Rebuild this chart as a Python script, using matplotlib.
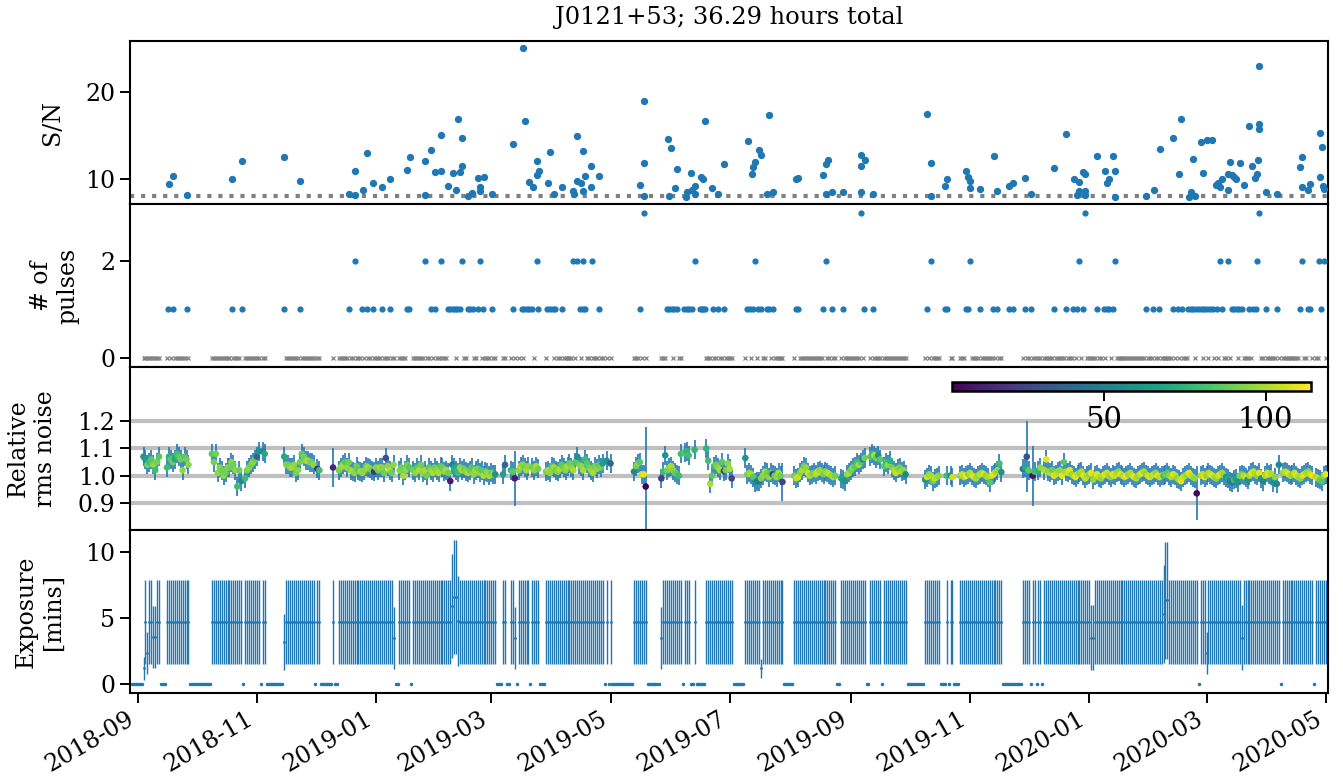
import numpy as np
import pandas as pd
import matplotlib
matplotlib.use("Agg")
import matplotlib.pyplot as plt
import matplotlib.dates as mdates

plt.rcParams['font.family'] = 'serif'
plt.rcParams['font.serif'] = ['DejaVu Serif']
plt.rcParams['font.size'] = 17
plt.rcParams['axes.linewidth'] = 1.5
plt.rcParams['axes.labelpad'] = 15

source = "J0121+53"
total_hours = 36.29
sn_threshold = 8.0

# single pulse detections: MJD and S/N
sn_mjd = [58378.2, 58380.1, 58387.2, 58410.1, 58415.2, 58437.0, 58445.1, 58470.1, 58473.2, 58473.2,
          58477.1, 58479.2, 58482.3, 58487.2, 58491.1, 58500.0, 58501.2, 58509.0, 58509.0, 58512.1,
          58514.2, 58517.1, 58517.1, 58521.0,
          58523.2, 58524.9, 58526.1, 58526.9, 58528.1, 58528.1, 58531.2, 58533.2, 58536.0, 58537.2,
          58537.2, 58539.1, 58543.2, 58554.2, 58559.2, 58560.2, 58562.1, 58564.1, 58566.2, 58566.2,
          58567.2, 58572.0, 58573.2, 58575.1, 58579.1, 58584.9, 58585.3, 58587.0, 58587.0, 58589.0,
          58590.0, 58590.0, 58591.1, 58594.1, 58594.1, 58598.1,
          58619.1, 58621.1, 58621.1, 58621.1, 58633.2, 58634.1, 58635.1, 58637.1, 58638.2, 58642.4,
          58643.1, 58645.2, 58645.8, 58647.2, 58647.2, 58650.3, 58651.3, 58652.2, 58656.1, 58659.1,
          58662.1,
          58674.2, 58676.2, 58677.1, 58677.9, 58680.1, 58681.1, 58684.1, 58685.1, 58687.1, 58698.9,
          58700.1, 58712.9, 58714.1, 58714.1, 58715.1, 58717.2, 58723.1, 58732.0, 58732.0, 58732.0,
          58734.1, 58738.2,
          58766.1, 58768.0, 58768.0, 58775.2, 58776.0, 58785.9, 58786.8, 58787.9, 58787.9, 58793.1,
          58800.1, 58801.9, 58808.1, 58810.1, 58816.1, 58819.2,
          58830.9, 58837.1, 58841.0, 58842.9, 58843.9, 58843.9, 58846.0, 58847.0, 58847.0, 58847.0,
          58852.9, 58856.9, 58858.1, 58858.9, 58861.1, 58862.0, 58862.0,
          58878.0, 58882.0, 58885.0, 58892.0, 58895.1, 58896.1, 58900.0, 58901.1, 58901.9, 58903.1,
          58906.0, 58907.0, 58909.1, 58911.9, 58914.0, 58915.0, 58915.9, 58916.9, 58920.0, 58920.0,
          58921.0, 58921.9, 58923.1, 58924.1, 58926.0, 58928.2, 58930.9, 58932.1, 58933.6, 58934.6,
          58935.1, 58935.8, 58935.8, 58935.8, 58939.3, 58944.9, 58956.8, 58957.9, 58957.9, 58961.1,
          58962.0, 58966.9, 58967.1, 58967.9, 58968.8, 58969.1]
sn_val = [9.42, 10.27, 8.15, 10.0, 12.08, 12.47, 9.73, 8.19, 8.1, 10.85,
          8.69, 12.97, 9.5, 9.07, 9.92, 11.04, 12.47, 8.1, 12.05, 13.24,
          10.73, 10.93, 14.98, 9.15,
          10.62, 8.65, 16.8, 10.81, 14.67, 11.5, 8.07, 8.38, 10.04, 9.0,
          8.57, 10.19, 8.22, 13.98, 24.94, 16.6, 9.65, 9.07, 12.08, 10.42,
          10.89, 9.54, 13.01, 8.26, 9.07, 8.57, 8.22, 14.86, 9.73, 9.46,
          13.17, 8.61, 10.27, 11.43, 9.0, 10.27,
          9.3, 18.92, 11.85, 8.03, 14.52, 8.03, 13.51, 8.88, 11.16, 7.95,
          8.46, 10.66, 8.76, 9.15, 8.22, 10.15, 9.92, 16.6, 8.88, 8.22,
          11.74,
          14.32, 10.58, 11.39, 11.89, 13.28, 12.7, 8.3, 17.3, 8.49, 9.92,
          10.04, 10.39, 11.7, 8.19, 12.12, 8.46, 8.42, 12.74, 11.43, 8.42,
          12.12, 8.26,
          17.41, 11.85, 8.05, 9.15, 9.92, 10.89, 10.15, 9.77, 8.92, 8.84,
          12.63, 8.61, 9.19, 9.46, 10.04, 8.3,
          11.2, 15.14, 10.0, 8.11, 9.65, 8.61, 10.73, 10.58, 8.57, 8.11,
          12.55, 10.85, 9.5, 10.0, 12.66, 10.89, 7.95,
          7.99, 8.65, 13.36, 14.67, 10.5, 16.87, 7.92, 8.42, 12.28, 8.03,
          14.17, 10.66, 14.4, 14.4, 9.27, 9.46, 9.03, 9.92, 8.76, 10.58,
          11.97, 10.42, 10.15, 9.96, 11.78, 9.27, 16.06, 11.5, 10.04, 10.54,
          12.12, 22.97, 16.33, 15.75, 8.42, 8.22, 11.35, 12.47, 9.07, 8.76,
          9.42, 15.29, 10.19, 13.63, 9.19, 8.8]

# days with 1, 2 and 3 detected pulses (MJD)
pulses_1_mjd = [58377.7, 58379.9, 58387.1, 58410.1, 58415.2, 58437.0, 58445.1, 58470.1, 58476.6, 58479.2,
                58482.3, 58487.2, 58491.1, 58499.7, 58501.0, 58512.1, 58514.2, 58521.0, 58521.8, 58523.2,
                58524.4, 58525.6, 58526.9, 58530.9, 58532.1, 58533.4, 58536.0, 58538.9, 58543.2, 58554.2,
                58558.5, 58559.7, 58561.1, 58562.4, 58563.6, 58567.0, 58571.6, 58573.0, 58574.4, 58575.6,
                58579.0, 58588.4, 58589.7, 58590.9, 58598.2, 58619.1, 58632.7, 58634.1, 58635.3, 58636.6,
                58637.8, 58641.7, 58643.0, 58644.3, 58645.5, 58649.8, 58650.6, 58651.5, 58652.3, 58656.3,
                58659.1, 58662.1, 58673.7, 58675.4, 58677.0, 58679.6, 58680.8, 58683.9, 58685.2, 58687.0,
                58698.9, 58700.1, 58712.9, 58717.2, 58723.1, 58733.7, 58738.2, 58766.1, 58775.2, 58776.0,
                58785.9, 58786.8, 58793.1, 58799.9, 58801.9, 58808.1, 58810.1, 58816.1, 58819.2, 58830.9,
                58837.1, 58840.8, 58842.9, 58845.9, 58853.1, 58856.5, 58857.9, 58859.2, 58861.0, 58878.0,
                58881.8, 58884.8, 58892.0, 58894.5, 58896.3, 58899.7, 58900.9, 58902.2, 58903.6, 58905.3,
                58906.5, 58907.7, 58909.1, 58910.8, 58912.2, 58914.2, 58916.8, 58921.9, 58923.1, 58924.4,
                58925.8, 58927.2, 58930.9, 58932.6, 58934.3, 58939.3, 58944.9, 58956.8, 58960.8, 58962.0,
                58967.8]
pulses_2_mjd = [58473.2, 58509.0, 58517.1, 58528.1, 58537.2, 58566.2, 58584.9, 58586.7, 58590.0, 58594.3,
                58647.2, 58678.0, 58714.1, 58768.0, 58787.9, 58843.9, 58862.2, 58916.0, 58920.1, 58935.0,
                58957.9, 58966.8, 58968.9]
pulses_3_mjd = [58621.1, 58732.0, 58847.0, 58935.8]

# observing runs: first day, then one value per consecutive day
run_start = ["2018-09-04", "2018-09-16", "2018-10-09", "2018-10-26", "2018-11-04", "2018-11-15",
             "2018-12-02", "2018-12-10", "2018-12-13", "2019-01-13", "2019-01-20", "2019-03-07",
             "2019-03-11", "2019-03-15", "2019-03-22", "2019-03-29", "2019-04-29", "2019-05-01",
             "2019-05-13", "2019-05-27", "2019-06-06", "2019-06-08", "2019-06-13", "2019-06-19",
             "2019-07-09", "2019-08-03", "2019-08-27", "2019-09-11", "2019-09-18", "2019-10-09",
             "2019-10-20", "2019-10-22", "2019-10-27", "2019-11-28", "2019-12-03", "2019-12-06",
             "2019-12-09", "2020-01-04", "2020-02-27", "2020-03-19", "2020-04-09", "2020-04-26"]
run_noise = [
    [1.07, 1.06, 1.04, 1.05, 1.06, 1.04, 1.02, 1.05, 1.07],
    [1.03, 1.07, 1.06, 1.05, 1.06, 1.08, 1.07, 1.06, 1.02, 1.07, 1.06, 1.04],
    [1.08, 1.05, 1.08, 1.01, 1.03, 1.02, 1.00, 1.01, 1.03, 1.03, 1.05, 1.04, 1.02, 0.96, 1.02, 0.98],
    [0.99, 1.02, 1.03, 1.04, 1.05, 1.06, 1.07, 1.09],
    [1.09, 1.08],
    [1.07, 1.04, 1.04, 1.03, 1.03, 1.04, 1.01, 1.02, 1.05, 1.08, 1.07, 1.055, 1.055, 1.05, 1.05, 1.04],
    [1.025, 1.02],
    [1.03],
    [1.02, 1.03, 1.04, 1.05, 1.03, 1.05, 1.02, 1.015, 1.01, 1.035, 1.02, 1.015, 1.01, 1.02, 1.035,
     1.03, 1.025, 1.02, 1.015, 1.03, 1.02, 1.03, 1.03, 1.01, 1.065, 1.035, 1.02, 1.01, 1.04],
    [1.02, 1.03, 1.00, 1.02, 1.04, 1.03],
    [1.02, 1.01, 1.03, 1.02, 1.04, 1.01, 1.02, 1.00, 1.03, 1.02, 1.01, 1.03,
     1.02, 1.01, 1.035, 1.03, 1.015, 1.02, 1.01, 0.98, 1.04, 1.03, 1.02, 1.01, 1.03, 1.02,
     1.025, 1.015, 1.01, 1.02, 1.03, 1.005, 1.02, 1.025, 1.01, 1.02, 1.00, 1.015, 1.01, 1.00,
     1.01, 1.005, 1.005],
    [1.005, 1.04],
    [1.02, 1.015, 0.99],
    [1.02, 1.035, 1.04, 1.03, 1.02, 1.035],
    [1.03, 1.02, 1.035, 1.025],
    [1.015, 1.02, 1.01, 1.035, 1.03, 1.02, 1.015, 1.025, 1.04, 1.03, 1.02, 1.035, 1.045, 1.03, 1.02,
     1.05, 1.07, 1.04, 1.035, 1.02, 1.06, 1.045, 1.03, 1.02, 1.01, 1.035, 1.025, 1.04, 1.03, 1.045],
    [1.055],
    [1.045],
    [1.015, 1.035, 1.045, 1.05, 1.005, 1.005, 0.96],
    [0.99, 1.015, 1.075, 1.02, 1.03, 1.035, 1.02, 1.01, 1.005, 1.0],
    [1.08],
    [1.085, 1.09, 1.075],
    [1.095],
    [1.10, 1.055, 0.97, 1.0, 1.035, 1.04, 1.03, 1.02, 1.05, 1.017, 1.02, 1.045, 1.025, 0.99],
    [1.065, 1.005, 1.01, 1.005, 0.995, 0.975, 0.98, 0.98, 0.99, 1.0,
     1.015, 1.01, 0.995, 1.01, 1.005, 1.0, 0.995, 1.01, 1.0, 0.977],
    [1.0, 0.99, 0.995, 1.01, 1.02, 1.035, 1.03, 1.01, 1.0, 1.005, 1.01,
     1.005, 1.015, 1.02, 1.01, 1.005, 1.015, 1.01, 1.005, 1.0, 0.995, 1.0],
    [0.99, 0.985, 0.98, 1.005, 1.01, 1.02, 1.03, 1.035, 1.05, 1.04, 1.05, 1.06, 1.065],
    [1.07, 1.08, 1.075, 1.065, 1.075, 1.06],
    [1.035, 1.05, 1.04, 1.055, 1.03, 1.02, 1.01, 1.025, 1.03, 1.015, 1.02, 1.005],
    [0.985, 0.995, 1.005, 1.0, 0.98, 0.99, 0.995, 1.0],
    [1.0],
    [1.0, 0.995],
    [1.0, 1.005, 0.995, 1.0, 1.005, 1.01, 1.0, 0.995, 0.99, 1.0, 1.005,
     1.01, 1.005, 1.0, 0.995, 0.975, 1.0, 1.005, 1.013, 1.02, 1.045, 1.013],
    [1.025, 1.03, 1.07, 1.02],
    [1.0, 1.015],
    [1.02, 1.03],
    [1.02, 1.06, 1.015, 1.01, 1.02, 1.0, 1.005, 1.015, 1.02, 1.0, 1.05, 1.015, 1.01,
     1.02, 1.005, 1.0, 0.995, 1.005, 1.01, 1.015, 1.0, 0.99, 1.0, 1.005, 1.01, 0.985],
    [1.0, 1.005, 0.995, 0.99, 1.0, 1.005, 1.01, 1.0, 0.995, 1.005, 1.0, 1.01, 1.015, 1.005,
     1.0, 0.995, 1.0, 1.005, 1.01, 1.0, 0.995, 0.99, 1.0, 1.005, 1.01, 1.015, 1.005, 1.0,
     0.995, 1.0, 1.005, 1.01, 1.0, 0.995, 1.0, 1.0, 1.005, 1.01, 1.0, 0.995, 1.005,
     1.0, 0.99, 0.985, 0.98, 0.995, 1.0, 1.005, 1.01, 1.0, 0.995, 0.99, 0.935],
    [1.0, 1.005, 0.995, 1.0, 1.01, 1.005, 1.0, 0.995, 0.99, 1.0, 1.005,
     1.01, 1.0, 0.995, 0.99, 0.98, 0.975, 0.985, 0.99, 0.975, 1.0],
    [1.005, 1.0, 0.995, 0.985, 1.0, 1.01, 1.015, 1.005, 1.0, 1.01,
     0.99, 0.98, 1.0, 1.01, 1.005, 1.008, 0.975, 0.995, 0.97, 1.04],
    [1.01, 1.015, 1.012, 1.005, 1.0, 1.005, 1.01, 1.0, 0.995, 0.99, 1.0, 1.005, 1.01, 1.015, 1.005, 1.0],
    [0.995, 0.99, 0.985, 0.98, 1.0, 1.005],
]
run_cval = [
    [60, 65, 90, 80, 85, 95, 80, 90, 85],
    [80, 75, 85, 90, 70, 80, 85, 90, 95, 85, 90, 95],
    [85, 90, 90, 95, 95, 90, 95, 90, 95, 90, 95, 90, 95, 80, 90, 55],
    [80, 90, 95, 90, 95, 90, 40, 60],
    [55, 70],
    [70, 95, 90, 95, 100, 95, 90, 95, 90, 85, 90, 95, 100, 95, 90, 95],
    [20, 80],
    [15],
    [90, 95, 100, 85, 95, 90, 95, 100, 95, 90, 85, 100, 95, 95, 90,
     100, 95, 90, 20, 95, 90, 100, 95, 90, 30, 95, 100, 90, 95],
    [95, 90, 100, 95, 90, 85],
    [90, 95, 85, 100, 90, 95, 100, 90, 85, 95, 100, 90,
     95, 100, 85, 90, 95, 100, 90, 12, 50, 70, 75, 80, 95, 100,
     90, 95, 100, 90, 85, 95, 100, 90, 95, 85, 100, 90, 95, 100,
     90, 95, 60],
    [65, 40],
    [75, 85, 12],
    [95, 100, 95, 90, 100, 95],
    [90, 95, 100, 90],
    [90, 100, 95, 85, 100, 90, 95, 100, 85, 90, 95, 100, 90, 95, 100,
     85, 60, 90, 95, 100, 80, 85, 90, 95, 100, 90, 95, 85, 90, 65],
    [60],
    [40],
    [55, 90, 95, 85, 105, 110, 3],
    [25, 80, 60, 90, 95, 100, 95, 90, 85, 80],
    [80],
    [85, 75, 80],
    [75],
    [75, 80, 100, 85, 80, 90, 95, 100, 85, 25, 90, 95, 100, 25],
    [60, 90, 95, 100, 85, 60, 50, 45, 90, 95,
     100, 90, 95, 85, 25, 90, 95, 100, 90, 25],
    [90, 100, 105, 95, 100, 90, 95, 105, 100, 95, 90,
     100, 105, 95, 100, 90, 95, 100, 105, 95, 100, 90],
    [70, 65, 60, 95, 100, 90, 95, 85, 80, 100, 85, 55, 90],
    [85, 80, 100, 90, 60, 85],
    [85, 80, 95, 75, 90, 100, 105, 95, 90, 100, 95, 55],
    [60, 105, 95, 100, 90, 105, 100, 95],
    [80],
    [55, 105],
    [95, 105, 100, 114, 95, 100, 105, 110, 100, 95, 105,
     100, 110, 95, 100, 85, 105, 110, 100, 95, 80, 60],
    [45, 70, 30, 85],
    [8, 80],
    [75, 95],
    [100, 110, 95, 100, 90, 110, 105, 100, 95, 110, 85, 100, 105,
     110, 95, 100, 110, 105, 95, 100, 110, 105, 100, 95, 110, 95],
    [100, 110, 105, 95, 100, 110, 105, 100, 95, 110, 105, 100, 95, 110,
     100, 105, 110, 95, 100, 105, 110, 100, 95, 105, 110, 100, 95, 105,
     110, 100, 105, 95, 110, 100, 105, 80, 90, 85, 95, 100, 110,
     105, 95, 100, 110, 105, 100, 95, 110, 105, 100, 95, 5],
    [100, 105, 110, 95, 100, 105, 110, 100, 95, 105, 110,
     100, 95, 60, 70, 55, 50, 80, 65, 60, 95],
    [90, 100, 105, 60, 100, 110, 105, 100, 95, 110,
     60, 55, 100, 105, 110, 100, 60, 95, 55, 55],
    [95, 100, 105, 110, 100, 95, 105, 110, 100, 95, 105, 110, 100, 95, 105, 110],
    [100, 105, 90, 85, 95, 110],
]

noise_err_typical = 0.035
noise_err_dates = ["2018-12-10", "2019-03-13", "2019-05-19", "2019-07-28", "2019-11-30", "2019-12-03", "2020-02-25"]
noise_err_vals = [0.07, 0.10, 0.22, 0.07, 0.13, 0.11, 0.10]

exposure_typical = 4.72
exposure_err_typical = 3.17
exp_special_dates = ["2018-09-04", "2018-09-06", "2018-09-09", "2018-09-10", "2018-11-15", "2019-01-10",
                     "2019-02-09", "2019-02-10", "2019-02-11", "2019-02-12", "2019-03-13", "2019-05-27",
                     "2019-07-17", "2020-01-02", "2020-01-03", "2020-02-08", "2020-02-09", "2020-02-10",
                     "2020-03-01", "2020-03-19"]
exp_special_val = [1.2, 2.35, 3.55, 3.55, 3.2, 3.5,
                   5.9, 6.6, 6.6, 4.8, 3.5, 3.5,
                   1.2, 3.5, 3.5, 5.3, 6.35, 6.35,
                   2.35, 3.5]
exp_special_err = [0.85, 1.57, 2.35, 2.35, 2.1, 2.35,
                   3.9, 4.3, 4.3, 3.4, 2.35, 2.35,
                   0.75, 2.45, 2.45, 3.7, 4.4, 4.4,
                   1.6, 2.45]

# days in the beam with zero exposure: first day, number of days
zero_start = ["2018-08-29", "2018-09-13", "2018-09-28", "2018-10-25", "2018-11-03", "2018-11-06",
              "2018-12-01", "2018-12-04", "2018-12-11", "2019-01-11", "2019-01-19", "2019-03-04",
              "2019-03-09", "2019-03-14", "2019-03-21", "2019-03-26", "2019-04-28", "2019-04-30",
              "2019-05-02", "2019-05-20", "2019-06-07", "2019-06-11", "2019-06-14", "2019-07-03",
              "2019-07-29", "2019-08-25", "2019-09-09", "2019-09-17", "2019-09-30", "2019-10-17",
              "2019-10-21", "2019-10-24", "2019-11-18", "2019-12-02", "2019-12-05", "2019-12-08",
              "2020-02-26", "2020-04-08", "2020-04-25"]
zero_len = [6, 3, 11, 1, 1, 9,
            1, 6, 2, 2, 1, 3,
            2, 1, 1, 3, 1, 1,
            11, 7, 1, 2, 5, 6,
            5, 2, 2, 1, 9, 3,
            1, 3, 10, 1, 1, 1,
            1, 1, 1]


def mjd_to_date(mjd):
    return pd.to_datetime(np.asarray(mjd, dtype=float) - 40587.0, unit='D')


# build the per-day observation arrays
obs_parts = []
for k, (s, nv, cv) in enumerate(zip(run_start, run_noise, run_cval)):
    if len(nv) != len(cv):
        raise ValueError("run %d (%s): %d noise vs %d colour" % (k, s, len(nv), len(cv)))
    obs_parts.append(pd.date_range(s, periods=len(nv), freq='D'))
obs_dates = obs_parts[0].append(obs_parts[1:])
noise = np.concatenate(run_noise)
cval = np.concatenate(run_cval)

noise_err = np.full(len(obs_dates), noise_err_typical)
for d, e in zip(noise_err_dates, noise_err_vals):
    noise_err[obs_dates.get_loc(pd.Timestamp(d))] = e

expo = np.full(len(obs_dates), exposure_typical)
expo_err = np.full(len(obs_dates), exposure_err_typical)
for d, v, e in zip(exp_special_dates, exp_special_val, exp_special_err):
    i = obs_dates.get_loc(pd.Timestamp(d))
    expo[i] = v
    expo_err[i] = e

zero_dates = pd.date_range(zero_start[0], periods=zero_len[0], freq='D').append(
    [pd.date_range(s, periods=n, freq='D') for s, n in zip(zero_start[1:], zero_len[1:])])

pulse_mjd = np.array(pulses_1_mjd + pulses_2_mjd + pulses_3_mjd)
pulse_n = np.array([1] * len(pulses_1_mjd) + [2] * len(pulses_2_mjd) + [3] * len(pulses_3_mjd))
pulse_days = set(np.round(pulse_mjd).astype(int))
obs_mjd = (obs_dates - pd.Timestamp("1858-11-17")).days
no_pulse = np.array([m not in pulse_days for m in obs_mjd])

# figure
fig, axes = plt.subplots(4, 1, sharex=True, figsize=(13.43, 7.82), dpi=100)
fig.subplots_adjust(left=0.0968, right=0.9886, top=0.9476, bottom=0.1138, hspace=0)
ax1, ax2, ax3, ax4 = axes

# S/N
ax1.scatter(mjd_to_date(sn_mjd), sn_val, s=18, color='C0', zorder=3)
ax1.axhline(sn_threshold, color='gray', ls=':', lw=3, zorder=2)
ax1.set_ylim(7.1, 25.8)
ax1.set_yticks([10, 20])
ax1.set_ylabel('S/N')
ax1.set_title('%s; %.2f hours total' % (source, total_hours), fontsize=17.4, pad=12)

# number of pulses
ax2.plot(obs_dates[no_pulse], np.zeros(no_pulse.sum()), 'x', color='gray', ms=3.5, mew=0.9)
ax2.scatter(mjd_to_date(pulse_mjd), pulse_n, s=12, color='C0', zorder=3)
ax2.set_ylim(-0.19, 3.18)
ax2.set_yticks([0, 2])
ax2.set_ylabel('# of\npulses')

# relative rms noise
for y in [0.9, 1.0, 1.1, 1.2]:
    ax3.axhline(y, color='0.75', lw=3, zorder=1)
ax3.errorbar(obs_dates, noise, yerr=noise_err, fmt='none', ecolor='C0', elinewidth=1.2, zorder=2)
sc = ax3.scatter(obs_dates, noise, c=cval, cmap='viridis', s=14, zorder=3)
ax3.set_ylim(0.8, 1.4)
ax3.set_yticks([0.9, 1.0, 1.1, 1.2])
ax3.set_ylabel('Relative\nrms noise')
cax = ax3.inset_axes([0.686, 0.852, 0.300, 0.058])
cb = fig.colorbar(sc, cax=cax, orientation='horizontal')
cb.set_ticks([50, 100])
cb.outline.set_linewidth(1.8)
cax.tick_params(labelsize=21, length=7, width=1.4)

# exposure
ax4.errorbar(obs_dates, expo, yerr=expo_err, fmt='.', ms=2, color='C0', elinewidth=1.0)
ax4.plot(zero_dates, np.zeros(len(zero_dates)), '.', ms=3, color='C0')
ax4.set_ylim(-0.65, 11.64)
ax4.set_yticks([0, 5, 10])
ax4.set_ylabel('Exposure\n[mins]')

for ax in axes:
    ax.tick_params(axis='y', direction='out', length=7, width=1.4, labelsize=17)
    ax.tick_params(axis='x', direction='out', length=7, width=1.4, labelsize=17)
for ax in axes[:3]:
    ax.tick_params(axis='x', length=0)

ax4.xaxis.set_major_locator(mdates.MonthLocator(bymonth=[1, 3, 5, 7, 9, 11]))
ax4.xaxis.set_major_formatter(mdates.DateFormatter('%Y-%m'))
ax4.set_xlim(pd.Timestamp('2018-08-28 02:00'), pd.Timestamp('2020-05-02 00:30'))
for lbl in ax4.get_xticklabels():
    lbl.set_rotation(30)
    lbl.set_ha('right')

fig.savefig('out.png', dpi=100)
